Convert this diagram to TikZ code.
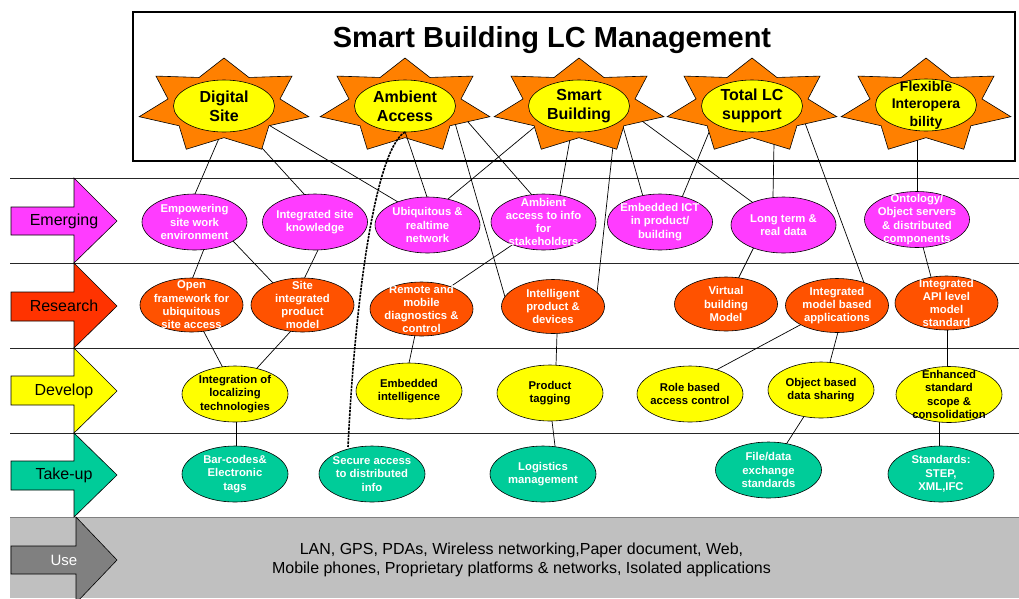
\documentclass[tikz,border=0pt]{standalone}
\usepackage{fontspec}
\setmainfont{Liberation Sans}
\usetikzlibrary{shapes.geometric,calc}
\pgfdeclarelayer{bgzero}
\pgfdeclarelayer{bgone}
\pgfsetlayers{bgzero,bgone,main}
\definecolor{cEm}{HTML}{FF3CFF}
\definecolor{cRe}{HTML}{FF5200}
\definecolor{cReA}{HTML}{FF3300}
\definecolor{cDe}{HTML}{FFFF00}
\definecolor{cTa}{HTML}{00CC99}
\definecolor{cStar}{HTML}{FF8000}
\definecolor{cGray}{HTML}{C0C0C0}
\definecolor{cUse}{HTML}{808080}
\newcommand\sunstar[2]{%
  \draw[fill=cStar, draw=black, line width=0.6pt]
    plot[samples at={0,...,13}, variable=\i]
    ({#1+87*(0.83+0.17*cos(180*\i))*cos(90+\i*360/14)},
     {#2-48*(0.83+0.17*cos(180*\i))*sin(90+\i*360/14)}) -- cycle;}
\begin{document}
\begin{tikzpicture}[x=1pt,y=-1pt,
  ell/.style={ellipse, draw=black, line width=0.6pt, inner sep=0pt, minimum width=105pt, minimum height=56pt},
  emsty/.style={ell, fill=cEm},
  ressty/.style={ell, fill=cRe, minimum width=103pt, minimum height=54pt},
  devsty/.style={ell, fill=cDe, minimum width=106pt},
  takesty/.style={ell, fill=cTa, minimum width=106pt},
  sunell/.style={ell, fill=cDe, minimum width=101pt, minimum height=52pt},
  wtxt/.style={text=white, font=\fontsize{11.3}{13.3}\selectfont\bfseries, align=center, inner sep=0pt},
  btxt/.style={wtxt, text=black},
  stxt/.style={text=black, font=\fontsize{16}{19}\selectfont\bfseries, align=center, inner sep=0pt},
  conn/.style={draw=black, line width=0.7pt, shorten <=-5pt, shorten >=-5pt},
  plainconn/.style={draw=black, line width=0.7pt},
  dashline/.style={draw=black, line width=1.6pt, dash pattern=on 2.5pt off 1pt},
  rowline/.style={draw=black!85, line width=0.7pt},
  arrowlbl/.style={font=\fontsize{16}{19}\selectfont, inner sep=0pt},
  stagearrow/.style={draw=black, line width=0.6pt}
]
\useasboundingbox (0,0) rectangle (1019,598);

\begin{pgfonlayer}{bgzero}
  \fill[cGray] (10,517) rectangle (1019,598);
  \draw[draw=cUse, line width=0.7pt] (10,517) -- (1019,517);
  \foreach \yy in {178,263,348,433} \draw[rowline] (10,\yy) -- (1019,\yy);
  \draw[line width=1.8pt] (133,12) rectangle (1015,161);
\end{pgfonlayer}

% title
\node[font=\fontsize{29}{34}\selectfont\bfseries] (title) at (552,40) {Smart Building LC Management};

% stage arrows
\begin{scope}
\clip (0,0) rectangle (1019,598);
\draw[stagearrow, fill=cEm] (11,207) -- (74,207) -- (74,178) -- (117,221) -- (74,263) -- (74,235) -- (11,235) -- cycle;
\draw[stagearrow, fill=cReA] (11,292) -- (74,292) -- (74,263) -- (117,306) -- (74,348) -- (74,321) -- (11,321) -- cycle;
\draw[stagearrow, fill=cDe] (11,376) -- (74,376) -- (74,348) -- (117,391) -- (74,433) -- (74,405) -- (11,405) -- cycle;
\draw[stagearrow, fill=cTa] (11,461) -- (74,461) -- (74,433) -- (117,475) -- (74,517) -- (74,490) -- (11,490) -- cycle;
\draw[stagearrow, fill=cUse] (11,546) -- (76,546) -- (76,517) -- (117,560) -- (76,603) -- (76,574) -- (11,574) -- cycle;
\end{scope}
\node[arrowlbl] (lem) at (64,221) {Emerging};
\node[arrowlbl] (lre) at (64,306) {Research};
\node[arrowlbl] (lde) at (64,391) {Develop};
\node[arrowlbl] (lta) at (64,475) {Take-up};
\node[arrowlbl, text=white, font=\fontsize{15}{18}\selectfont] (lus) at (64,560) {Use};

% stars
\sunstar{224}{106}
\sunstar{405}{106}
\sunstar{579}{106}
\sunstar{752}{106}
\sunstar{926}{106}
\node[sunell, label={[stxt]center:{Digital\\Site}}] (ds) at (224,106) {};
\node[sunell, label={[stxt]center:{Ambient\\Access}}] (aa) at (405,106) {};
\node[sunell, label={[stxt]center:{Smart\\Building}}] (sb) at (579,106) {};
\node[sunell, label={[stxt]center:{Total LC\\support}}] (tl) at (752,106) {};
\node[sunell, label={[stxt, font=\fontsize{14}{17.5}\selectfont\bfseries]center:{Flexible\\Interopera\\bility}}] (fi) at (926,105) {};

% emerging
\node[emsty, label={[wtxt]center:{Empowering\\site work\\environment}}] (e1) at (194.5,222) {};
\node[emsty, label={[wtxt]center:{Integrated site\\knowledge}}] (e2) at (315,222) {};
\node[emsty, label={[wtxt]center:{Ubiquitous \&\\realtime\\network}}] (e3) at (427.5,225) {};
\node[emsty, label={[wtxt]center:{Ambient\\access to info\\for\\stakeholders}}] (e4) at (543.5,222) {};
\node[emsty, label={[wtxt]center:{Embedded ICT\\in product/\\building}}] (e5) at (660,222) {};
\node[emsty, label={[wtxt]center:{Long term \&\\real data}}] (e6) at (783.5,225) {};
\node[emsty, label={[wtxt]center:{Ontology/\\Object servers\\\& distributed\\components}}] (e7) at (917,219.5) {};

% research
\node[ressty, label={[wtxt]center:{Open\\framework for\\ubiquitous\\site access}}] (r1) at (191.5,305) {};
\node[ressty, label={[wtxt]center:{Site\\integrated\\product\\model}}] (r2) at (302.5,305) {};
\node[ressty, label={[wtxt]center:{Remote and\\mobile\\diagnostics \&\\control}}] (r3) at (421.5,309) {};
\node[ressty, label={[wtxt]center:{Intelligent\\product \&\\devices}}] (r4) at (553,306.5) {};
\node[ressty, label={[wtxt]center:{Virtual\\building\\Model}}] (r5) at (726,304) {};
\node[ressty, label={[wtxt]center:{Integrated\\model based\\applications}}] (r6) at (837,305.5) {};
\node[ressty, label={[wtxt]center:{Integrated\\API level\\model\\standard}}] (r7) at (946.5,303) {};

% develop
\node[devsty, label={[btxt]center:{Integration of\\localizing\\technologies}}] (d1) at (235,394) {};
\node[devsty, label={[btxt]center:{Embedded\\intelligence}}] (d2) at (409,391) {};
\node[devsty, label={[btxt]center:{Product\\tagging}}] (d3) at (550,393) {};
\node[devsty, label={[btxt]center:{Role based\\access control}}] (d4) at (690,394) {};
\node[devsty, label={[btxt]center:{Object based\\data sharing}}] (d5) at (821,390) {};
\node[devsty, label={[btxt]center:{Enhanced\\standard\\scope \&\\consolidation}}] (d6) at (949,394.5) {};

% take-up
\node[takesty, label={[wtxt]center:{Bar-codes\&\\Electronic\\tags}}] (t1) at (235,474) {};
\node[takesty, label={[wtxt]center:{Secure access\\to distributed\\info}}] (t2) at (372,474) {};
\node[takesty, label={[wtxt]center:{Logistics\\management}}] (t3) at (543,474) {};
\node[takesty, label={[wtxt]center:{File/data\\exchange\\standards}}] (t4) at (768.5,470) {};
\node[takesty, label={[wtxt]center:{Standards:\\STEP,\\XML,IFC}}] (t5) at (941,474) {};

% use text
\node[font=\fontsize{16}{19.5}\selectfont, align=center] (usetxt) at (521.5,560) {LAN, GPS, PDAs, Wireless networking,Paper document, Web,\\Mobile phones, Proprietary platforms \& networks, Isolated applications};

% connectors (under shapes)
\begin{pgfonlayer}{bgone}
\draw[conn] ($(ds)+(-4,30)$) -- ($(e1)+(0.5,-28)$);
\draw[conn] ($(ds)+(38,42)$) -- ($(e2)+(-11,-28)$);
\draw[conn] ($(ds)+(43,18)$) -- ($(e3)+(-29.5,-23)$);
\draw[conn] ($(aa)+(50,17)$) -- ($(r4)+(-48,-9.5)$);
\draw[conn] ($(aa)+(63,16)$) -- ($(e4)+(-11.5,-27)$);
\draw[conn] ($(sb)+(-42,19)$) -- ($(e3)+(20.5,-26)$);
\draw[conn] ($(sb)+(-9,33)$) -- ($(e4)+(16.5,-27)$);
\draw[conn] ($(sb)+(34,40)$) -- ($(r4)+(44,-13.5)$);
\draw[conn] ($(sb)+(43,17)$) -- ($(e5)+(-18,-29)$);
\draw[conn] ($(sb)+(63,15)$) -- ($(e6)+(-31.5,-23)$);
\draw[conn] ($(tl)+(-40,19)$) -- ($(e5)+(23,-27)$);
\draw[conn] ($(tl)+(22,37)$) -- ($(e6)+(-10.5,-29)$);
\draw[conn] ($(tl)+(53,17)$) -- ($(r6)+(26,-25.5)$);
\draw[conn] ($(fi)+(-9,37)$) -- ($(e7)+(0,-26.5)$);
\draw[conn] ($(e1)+(9.5,27)$) -- ($(r1)+(1.5,-28)$);
\draw[conn] ($(e1)+(38.5,19)$) -- ($(r2)+(-29.5,-22)$);
\draw[conn] ($(e2)+(3,28)$) -- ($(r2)+(2.5,-28)$);
\draw[conn] ($(e4)+(-31.5,23)$) -- ($(r3)+(28.5,-22)$);
\draw[conn] ($(e6)+(-30.5,24)$) -- ($(r5)+(13,-27)$);
\draw[conn] ($(e7)+(6,27.5)$) -- ($(r7)+(-15.5,-26)$);
\draw[conn] ($(r1)+(12.5,27)$) -- ($(d1)+(-13,-28)$);
\draw[conn] ($(r2)+(-12.5,27)$) -- ($(d1)+(23,-27)$);
\draw[conn] ($(r3)+(-6.5,26)$) -- ($(d2)+(0,-28)$);
\draw[conn] ($(r4)+(4,27.5)$) -- ($(d3)+(6,-28)$);
\draw[conn] ($(r6)+(-37,19.5)$) -- ($(d4)+(28,-25)$);
\draw[conn] ($(r6)+(1,26.5)$) -- ($(d5)+(9,-28)$);
\draw[conn] ($(r7)+(0.5,27)$) -- ($(d6)+(-2,-27.5)$);
\draw[conn] ($(d1)+(1,28)$) -- ($(t1)+(1,-28)$);
\draw[conn] ($(d3)+(2,28)$) -- ($(t3)+(12,-28)$);
\draw[conn] ($(d5)+(-18,28)$) -- ($(t4)+(18.5,-27)$);
\draw[conn] ($(d6)+(-10,27.5)$) -- ($(t5)+(-2,-28)$);
\end{pgfonlayer}

% connectors drawn over the star
\draw[plainconn] ($(aa)+(0,25.5)$) -- ($(e3)+(-0.5,-28)$);
\draw[dashline] ($(aa)+(0,26)$) .. controls ($(aa)+(-30,44)$) and ($(t2)+(-17,-174)$) .. ($(t2)+(-24,-27)$);
\end{tikzpicture}
\end{document}
